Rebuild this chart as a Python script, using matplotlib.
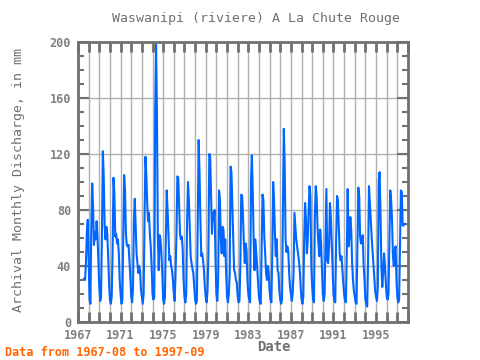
import numpy as np
import matplotlib
matplotlib.use("Agg")
import matplotlib.pyplot as plt
from matplotlib.ticker import MultipleLocator

# monthly discharge (mm), Jan..Dec per year
y1967 = [31, 30, 43, 64, 73]                      # Aug-Dec
y1968 = [45, 16, 13, 68, 99, 82, 55, 64, 59, 72, 61, 42]
y1969 = [25, 15, 18, 63, 122, 104, 69, 59, 68, 63, 47, 28]
y1970 = [16, 13, 18, 49, 103, 92, 61, 63, 56, 59, 49, 30]
y1971 = [20, 13, 15, 59, 105, 94, 63, 55, 54, 55, 44, 32]
y1972 = [18, 14, 25, 73, 88, 68, 49, 42, 35, 40, 36, 23]
y1973 = [18, 13, 20, 73, 118, 106, 85, 72, 78, 63, 54, 40]
y1974 = [20, 16, 18, 149, 198, 150, 61, 37, 62, 59, 49, 35]
y1975 = [16, 13, 18, 59, 94, 80, 63, 44, 47, 40, 37, 30]
y1976 = [20, 15, 35, 63, 104, 103, 82, 63, 59, 61, 52, 30]
y1977 = [18, 14, 20, 73, 100, 87, 68, 47, 42, 38, 35, 25]
y1978 = [16, 13, 15, 73, 130, 106, 72, 47, 49, 44, 37, 25]
y1979 = [18, 14, 22, 49, 120, 118, 92, 63, 78, 73, 80, 45]
y1980 = [20, 15, 30, 94, 87, 59, 49, 68, 66, 47, 59, 35]
y1981 = [18, 14, 20, 35, 111, 107, 82, 59, 37, 35, 30, 28]
y1982 = [18, 14, 15, 40, 91, 90, 75, 56, 42, 56, 51, 30]
y1983 = [20, 16, 14, 101, 119, 92, 59, 37, 59, 49, 40, 28]
y1984 = [18, 14, 13, 54, 91, 87, 61, 49, 35, 30, 40, 35]
y1985 = [22, 16, 14, 49, 100, 87, 63, 47, 59, 37, 35, 22]
y1986 = [16, 13, 16, 82, 138, 113, 59, 50, 54, 51, 35, 25]
y1987 = [20, 15, 20, 35, 78, 68, 59, 54, 49, 44, 37, 25]
y1988 = [16, 13, 18, 60, 85, 73, 49, 59, 80, 97, 90, 40]
y1989 = [25, 16, 14, 75, 97, 90, 68, 56, 47, 66, 56, 37]
y1990 = [20, 15, 20, 60, 95, 44, 42, 54, 85, 75, 56, 37]
y1991 = [20, 15, 14, 59, 90, 87, 68, 49, 44, 47, 37, 28]
y1992 = [20, 15, 14, 50, 95, 54, 61, 75, 66, 42, 30, 22]
y1993 = [18, 14, 13, 54, 96, 90, 61, 56, 59, 62, 40, 30]
y1994 = [16, 13, 11, 44, 97, 85, 72, 61, 51, 40, 30, 22]
y1995 = [18, 15, 25, 101, 107, 78, 40, 25, 35, 49, 40, 28]
y1996 = [18, 16, 20, 56, 94, 87, 73, 47, 40, 51, 54, 30]
y1997 = [18, 14, 16, 56, 94, 93, 69, 69, 70]      # Jan-Sep

full_years = [y1968, y1969, y1970, y1971, y1972, y1973, y1974, y1975, y1976,
              y1977, y1978, y1979, y1980, y1981, y1982, y1983, y1984, y1985,
              y1986, y1987, y1988, y1989, y1990, y1991, y1992, y1993, y1994,
              y1995, y1996]

values = list(y1967)
for yr in full_years:
    values += yr
values += y1997
values = np.array(values, dtype=float)
dates = 1967 + 7 / 12 + np.arange(len(values)) / 12

fig = plt.figure(figsize=(4.8, 3.6), dpi=100)
ax = fig.add_axes([0.1625, 0.1056, 0.6875, 0.7778])

ax.plot(dates, values, color="#0066ff", lw=1.5)

ax.set_xlim(1967, 1998)
ax.set_ylim(0, 200)
ax.set_xticks(np.arange(1967, 1999, 4))
ax.xaxis.set_minor_locator(MultipleLocator(1))
ax.set_yticks(np.arange(0, 201, 40))
ax.yaxis.set_minor_locator(MultipleLocator(10))

for yr in range(1968, 1998):
    ax.axvline(yr, color="#b0b0b0", lw=1, zorder=0)
for v in range(40, 200, 40):
    ax.axhline(v, color="#b0b0b0", lw=1, zorder=0)

gray = "#707070"
for s in ax.spines.values():
    s.set_color(gray)
    s.set_linewidth(2)
ax.tick_params(axis="x", which="both", direction="in", top=True, bottom=True,
               length=7, width=2, color=gray)
ax.tick_params(axis="y", which="major", direction="in", left=True, right=True,
               length=8, width=1.5, color=gray)
ax.tick_params(axis="y", which="minor", direction="in", left=True, right=True,
               length=4, width=1.5, color=gray)
ax.tick_params(labelsize=8.5, labelcolor="#808080", pad=5)
for lab in ax.get_xticklabels() + ax.get_yticklabels():
    lab.set_family("DejaVu Sans Mono")
    lab.set_fontweight("bold")

fig.text(0.533, 0.948, "Waswanipi (riviere) A La Chute Rouge", ha="center", va="center",
         family="DejaVu Sans Mono", fontsize=9.5, color="#707070")
fig.text(0.038, 0.5, "Archival Monthly Discharge, in mm", rotation=90, ha="center",
         va="center", family="DejaVu Sans Mono", fontsize=9.5, color="#707070")
fig.text(0.571, 0.035, "Date", ha="center", va="center", family="DejaVu Sans Mono",
         fontsize=10, fontweight="bold", color="#707070")
fig.text(0.01, 0.022, "Data from 1967-08 to 1997-09", ha="left", va="center",
         family="DejaVu Sans Mono", fontsize=8.5, fontweight="bold", color="#ff6600")

fig.savefig("out.png", dpi=100)
